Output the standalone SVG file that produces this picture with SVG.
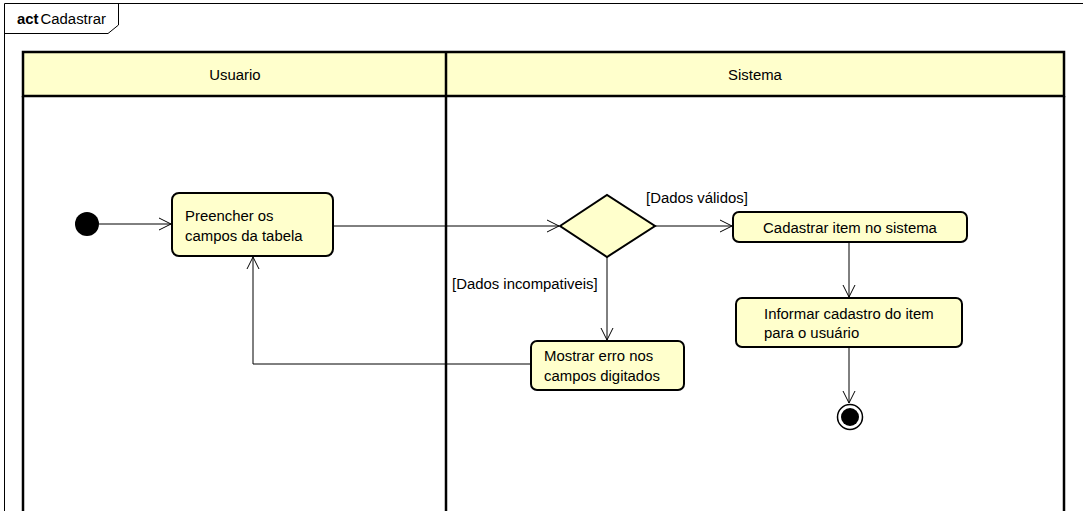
<svg xmlns="http://www.w3.org/2000/svg" width="1083" height="511" viewBox="0 0 1083 511">
<style>
text{font-family:"Liberation Sans",Arial,sans-serif;font-size:14.9px;fill:#000}
.act{fill:#ffffcc;stroke:#000;stroke-width:2}
.lane{fill:none;stroke:#000;stroke-width:2.5}
.hdr{fill:#ffffcc;stroke:#000;stroke-width:2.5}
.c{fill:none;stroke:#000;stroke-width:1}
</style>
<defs>
<marker id="arr" markerWidth="14" markerHeight="14" refX="12" refY="7" orient="auto" markerUnits="userSpaceOnUse">
<path d="M0,1 L12,7 L0,13" fill="none" stroke="#000" stroke-width="1"/>
</marker>
</defs>
<rect width="1083" height="511" fill="#fff"/>
<g id="frame">
<path d="M4.5,511 V3.5 H1083" fill="none" stroke="#000" stroke-width="1"/>
<path d="M4.5,33.5 H108 L118.5,25 V3.5" fill="none" stroke="#000" stroke-width="1"/>
<text x="17" y="24"><tspan font-weight="bold">act</tspan><tspan dx="2">Cadastrar</tspan></text>
</g>
<g id="lanes">
<rect class="hdr" x="23" y="52" width="1041" height="44"/>
<path class="lane" d="M23,96 V511 M446,52 V511 M1064,96 V511"/>
<text x="235" y="80" text-anchor="middle">Usuario</text>
<text x="755" y="80" text-anchor="middle">Sistema</text>
</g>
<g id="connectors">
<path class="c" d="M99,224 H171" marker-end="url(#arr)"/>
<path class="c" d="M333,226 H559" marker-end="url(#arr)"/>
<path class="c" d="M655,226 H732" marker-end="url(#arr)"/>
<path class="c" d="M607,257 V340" marker-end="url(#arr)"/>
<path class="c" d="M849,242 V297" marker-end="url(#arr)"/>
<path class="c" d="M849,347 V403" marker-end="url(#arr)"/>
<path class="c" d="M531,364 H253 V257" marker-end="url(#arr)"/>
<text x="646" y="203">[Dados válidos]</text>
<text x="452" y="289">[Dados incompativeis]</text>
</g>
<g id="start"><circle cx="87" cy="224" r="12" fill="#000"/></g>
<g id="preencher">
<rect class="act" x="172" y="193" width="161" height="63" rx="7"/>
<text x="185" y="221">Preencher os</text>
<text x="185" y="241">campos da tabela</text>
</g>
<g id="decision">
<path class="act" d="M560,226 L607,195 L655,226 L607,257 Z"/>
</g>
<g id="cadastrar">
<rect class="act" x="733" y="212" width="234" height="30" rx="6"/>
<text x="850" y="233" text-anchor="middle">Cadastrar item no sistema</text>
</g>
<g id="informar">
<rect class="act" x="736" y="298" width="226" height="49" rx="6"/>
<text x="764" y="319">Informar cadastro do item</text>
<text x="764" y="338">para o usuário</text>
</g>
<g id="mostrar">
<rect class="act" x="531" y="341" width="153" height="49" rx="6"/>
<text x="544" y="361">Mostrar erro nos</text>
<text x="544" y="381">campos digitados</text>
</g>
<g id="end">
<circle cx="850" cy="417" r="12.5" fill="#fff" stroke="#000" stroke-width="1.5"/>
<circle cx="850" cy="417" r="9" fill="#000"/>
</g>
</svg>
